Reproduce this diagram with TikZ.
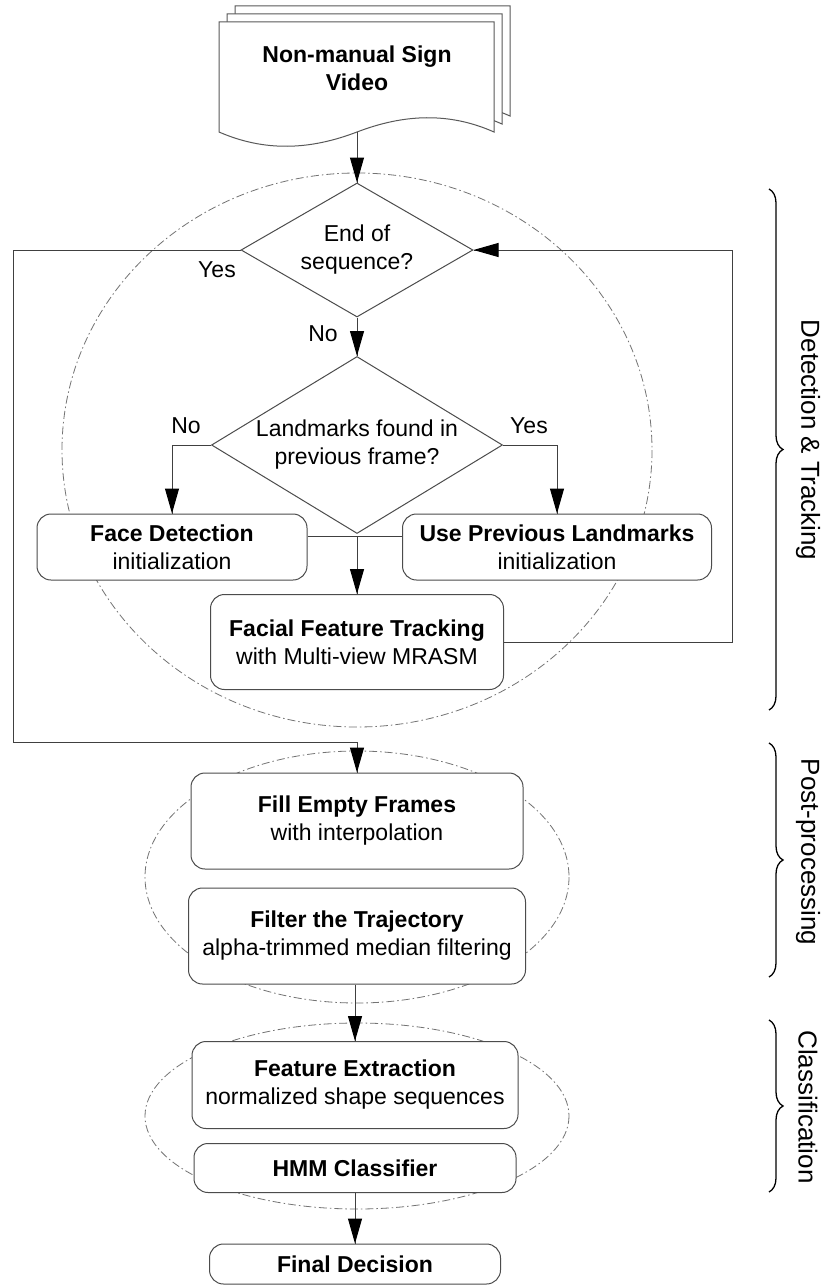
\documentclass[tikz,border=0pt]{standalone}
\usepackage{fontspec}
\setmainfont{Liberation Sans}
\usetikzlibrary{arrows.meta,shapes.geometric,
                 decorations.markings,
                 decorations.pathreplacing}
\tikzset{->/.style = {decoration={markings, mark=at position 1 with {\arrow[black]{Triangle[length=25pt,width=14pt]}}}, postaction={decorate}}}
\tikzset{box/.style = {draw=black!70, fill=white, rounded corners=14pt, align=center, inner sep=0pt, line width=1pt},
         decision/.style = {diamond, draw=black!70, fill=white, align=center, inner sep=0pt, line width=1pt},
         stage/.style = {draw=black!55, line width=0.8pt, dash pattern=on 8pt off 3pt on 1.5pt off 3pt},
         page/.style = {draw=black!65, fill=white, line width=1pt},
         link/.style = {draw=black!75, line width=1pt},
         curly/.style = {decorate, decoration={brace, amplitude=14pt}, line width=1.3pt},
         stagelabel/.style = {rotate=-90, font=\fontsize{26}{30}\selectfont}}

\begin{document}
\begin{tikzpicture}[x=1pt, y=-1pt, font=\fontsize{23}{28}\selectfont]
  \fill[white] (0,0) rectangle (828,1287);
  \useasboundingbox (0,0) rectangle (828,1287);
  \draw[stage] (357,450) ellipse [x radius=295, y radius=277];
  \draw[stage] (357,877) ellipse [x radius=212, y radius=126];
  \draw[stage] (357,1116) ellipse [x radius=212, y radius=93];
  \foreach \d in {16,8,0}
    \draw[page, shift={(\d,-\d)}] (219,22) -- (494,22) -- (494,132)
      .. controls (449,112) and (404,114) .. (357,132)
      .. controls (310,150) and (265,152) .. (219,132) -- cycle;
  \node[font=\fontsize{23}{28}\selectfont\bfseries, align=center] (video) at (357,68) {Non-manual Sign\\Video};
  \node[decision, aspect=1.73, minimum width=232pt, minimum height=134pt] (endseq) at (357,250) {End of\\sequence?};
  \node[decision, aspect=1.65, minimum width=291pt, minimum height=177pt] (found) at (357,445) {Landmarks found in\\previous frame?};
  \node[box, minimum width=270pt, minimum height=66pt] (facedet) at (172,547) {\textbf{Face Detection}\\initialization};
  \node[box, minimum width=309pt, minimum height=66pt] (useprev) at (557,547) {\textbf{Use Previous Landmarks}\\initialization};
  \node[box, minimum width=293pt, minimum height=95pt] (track) at (357,642) {\textbf{Facial Feature Tracking}\\with Multi-view MRASM};
  \node[box, minimum width=332pt, minimum height=96pt] (fill) at (357,821) {\textbf{Fill Empty Frames}\\with interpolation};
  \node[box, minimum width=337pt, minimum height=96pt] (filter) at (357,936) {\textbf{Filter the Trajectory}\\alpha-trimmed median filtering};
  \node[box, minimum width=326pt, minimum height=87pt] (feat) at (355,1085) {\textbf{Feature Extraction}\\normalized shape sequences};
  \node[box, minimum width=322pt, minimum height=49pt] (hmm) at (355,1168) {\textbf{HMM Classifier}};
  \node[box, minimum width=291pt, minimum height=40pt] (final) at (355,1264) {\textbf{Final Decision}};

  \coordinate (docbot) at (357,132);
  \draw[link, ->] (docbot) -- (endseq.north);
  \draw[link, ->] (endseq.south) -- (found.north);
  \node (noa) at (323,334) {No};
  \draw[link, ->] (found.west) -| (facedet.north);
  \node (nob) at (186,426) {No};
  \draw[link, ->] (found.east) -| (useprev.north);
  \node (yesb) at (529,426) {Yes};
  \coordinate (join) at (357,536);
  \draw[link] (facedet.east |- join) -- (useprev.west |- join);
  \draw[link, ->] (join) -- (track.north);
  \coordinate (rloop) at (732,0);
  \draw[link, ->] (track.east) -| (rloop |- endseq.east) -- (endseq.east);
  \coordinate (lloop) at (13,742);
  \draw[link, ->] (endseq.west) -| (lloop) -| (fill.north);
  \node (yesa) at (217,270) {Yes};
  \draw[link, ->] (filter.south -| feat.north) -- (feat.north);
  \draw[link, ->] (hmm.south) -- (final.north);

  \draw[curly] (769,189) -- (769,710);
  \node[stagelabel] (dettrack) at (808,440) {Detection \& Tracking};
  \draw[curly] (769,743) -- (769,977);
  \node[stagelabel] (postproc) at (808,852) {Post-processing};
  \draw[curly] (769,1020) -- (769,1192);
  \node[stagelabel] (classif) at (808,1107) {Classification};
\end{tikzpicture}
\end{document}
